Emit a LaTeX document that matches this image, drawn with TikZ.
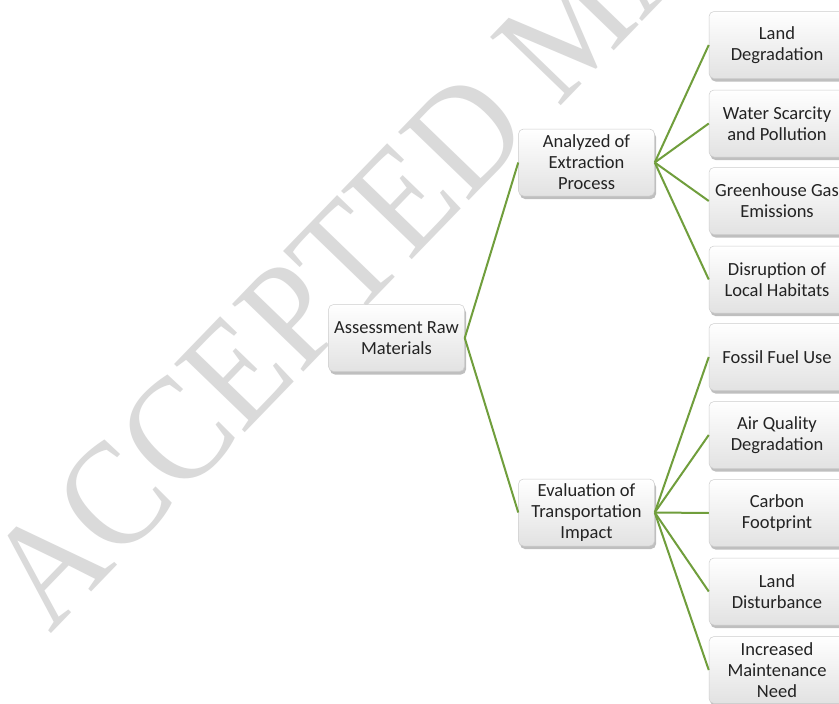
\documentclass[tikz,border=0pt]{standalone}
\usepackage{fontspec}
\setmainfont{Carlito}
\newfontfamily\wmfont{Liberation Serif}
\usetikzlibrary{shadows}
\definecolor{wmgray}{RGB}{218,218,218}
\definecolor{lnk}{RGB}{112,158,60}
\definecolor{txt}{RGB}{35,35,35}
\definecolor{boxline}{RGB}{205,205,205}
\definecolor{boxbot}{RGB}{226,226,226}
\tikzset{
  box/.style={rounded corners=5pt, draw=boxline, line width=0.5pt,
    top color=white, bottom color=boxbot,
    minimum width=136pt, minimum height=67pt, inner sep=1pt,
    align=center, text=txt, font=\fontsize{18.5}{21}\selectfont,
    drop shadow={shadow xshift=1.5pt, shadow yshift=-3pt, opacity=0.45, fill=black!55}},
  link/.style={draw=lnk, line width=2pt},
  wmtext/.style={text=wmgray, font=\wmfont\fontsize{150}{150}\selectfont, inner sep=0pt}
}
\begin{document}
\begin{tikzpicture}[x=1pt, y=-1pt]
\useasboundingbox (0,0) rectangle (839,704);
\clip (0,0) rectangle (839,704);
\fill[white] (0,0) rectangle (839,704);
\node[wmtext, rotate=46, xscale=0.9, anchor=base west] (wm) at (50,635) {ACCEPTED MA};

\node[box] (root) at (396.5,338) {Assessment Raw\\Materials};
\node[box] (ext) at (586.5,162.5) {Analyzed of\\Extraction\\Process};
\node[box] (tra) at (586.5,512.5) {Evaluation of\\Transportation\\Impact};

\node[box] (e1) at (777,45) {Land\\Degradation};
\node[box] (e2) at (777,123.5) {Water Scarcity\\and Pollution};
\node[box] (e3) at (777,201) {Greenhouse Gas\\Emissions};
\node[box] (e4) at (777,279.5) {Disruption of\\Local Habitats};
\node[box] (t1) at (777,357) {Fossil Fuel Use};
\node[box] (t2) at (777,435) {Air Quality\\Degradation};
\node[box] (t3) at (777,513) {Carbon\\Footprint};
\node[box] (t4) at (777,591.5) {Land\\Disturbance};
\node[box] (t5) at (777,670) {Increased\\Maintenance\\Need};

\draw[link] (root.east) -- (ext.west);
\draw[link] (root.east) -- (tra.west);
\foreach \n in {e1,e2,e3,e4} \draw[link] (ext.east) -- (\n.west);
\foreach \n in {t1,t2,t3,t4,t5} \draw[link] (tra.east) -- (\n.west);
\end{tikzpicture}
\end{document}
